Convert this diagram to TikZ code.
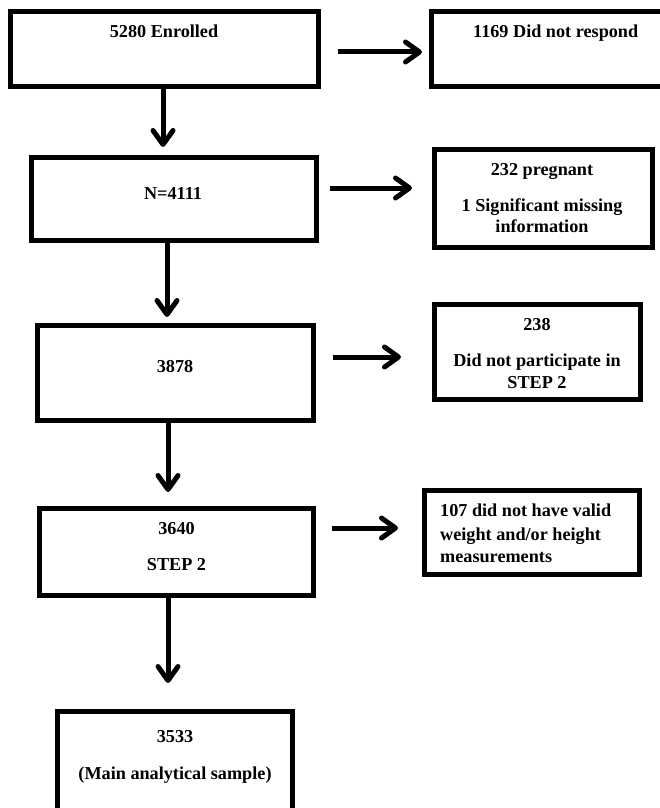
\documentclass[tikz,border=0pt]{standalone}
\usepackage{fontspec}
\setmainfont{Liberation Serif}
\usetikzlibrary{arrows.meta}
\begin{document}
\begin{tikzpicture}[x=1pt,y=-1pt,
  box/.style={draw=black,line width=5pt,rectangle,inner sep=0pt,fill=white},
  txt/.style={font=\fontsize{18.2}{21}\selectfont\bfseries,inner sep=0pt,anchor=base},
  txtl/.style={txt,anchor=base west},
  arr/.style={line width=5pt,-{Straight Barb[length=14pt,width=20pt,round]}}]
\useasboundingbox (0,0) rectangle (660,808);
\clip (0,0) rectangle (660,808);
\fill[white] (0,0) rectangle (660,808);
% left column boxes
\node[box,minimum width=308pt,minimum height=74.5pt] (b1) at (164.5,48.75) {};
\node[box,minimum width=285pt,minimum height=83pt] (b2) at (174,199) {};
\node[box,minimum width=276pt,minimum height=95pt] (b3) at (175.5,373) {};
\node[box,minimum width=274pt,minimum height=87pt] (b4) at (176.5,552) {};
\node[box,minimum width=235pt,minimum height=117pt] (b5) at (175,770) {};
% right column boxes
\node[box,minimum width=248.5pt,minimum height=74.5pt] (r1) at (555.75,48.75) {};
\node[box,minimum width=218pt,minimum height=98pt] (r2) at (543.5,198.5) {};
\node[box,minimum width=206pt,minimum height=95pt] (r3) at (537.5,352) {};
\node[box,minimum width=215pt,minimum height=84pt] (r4) at (532,532.5) {};
% texts
\node[txt] (t1) at (164,37.5) {5280 Enrolled};
\node[txt] (t2) at (173,199.5) {N=4111};
\node[txt] (t3) at (175,372.7) {3878};
\node[txt] (t4a) at (176.5,534) {3640};
\node[txt] (t4b) at (176.5,570) {STEP 2};
\node[txt] (t5a) at (175,742.3) {3533};
\node[txt] (t5b) at (175,779) {(Main analytical sample)};
\node[txt] (s1) at (555.7,37.3) {1169 Did not respond};
\node[txt] (s2a) at (542,175) {232 pregnant};
\node[txt] (s2b) at (542,211.7) {1 Significant missing};
\node[txt] (s2c) at (542,232) {information};
\node[txt] (s3a) at (537,330) {238};
\node[txt] (s3b) at (537,366) {Did not participate in};
\node[txt] (s3c) at (537,388.3) {STEP 2};
\node[txtl] (s4a) at (440,516.7) {107 did not have valid};
\node[txtl] (s4b) at (440,540) {weight and/or height};
\node[txtl] (s4c) at (440,562.7) {measurements};
% vertical arrows
\draw[arr,shorten >=8pt] ([xshift=-1.5pt]b1.south) -- ([xshift=-11pt]b2.north);
\draw[arr,shorten >=6pt] ([xshift=-7pt]b2.south) -- ([xshift=-8.5pt]b3.north);
\draw[arr,shorten >=14pt] ([xshift=-7.5pt]b3.south) -- ([xshift=-8.5pt]b4.north);
\draw[arr,shorten >=26pt] ([xshift=-8.5pt]b4.south) -- ([xshift=-7pt]b5.north);
% horizontal arrows
\draw[arr,shorten <=17pt,shorten >=7pt] ([yshift=-3.25pt]b1.east) -- ([yshift=-3.25pt]r1.west);
\draw[arr,shorten <=11pt,shorten >=20pt] ([yshift=11pt]b2.east) -- ([yshift=10.5pt]r2.west);
\draw[arr,shorten <=17pt,shorten >=31pt] ([yshift=16pt]b3.east) -- ([yshift=-5pt]r3.west);
\draw[arr,shorten <=16pt,shorten >=24pt] ([yshift=24pt]b4.east) -- ([yshift=4.5pt]r4.west);
\end{tikzpicture}
\end{document}
